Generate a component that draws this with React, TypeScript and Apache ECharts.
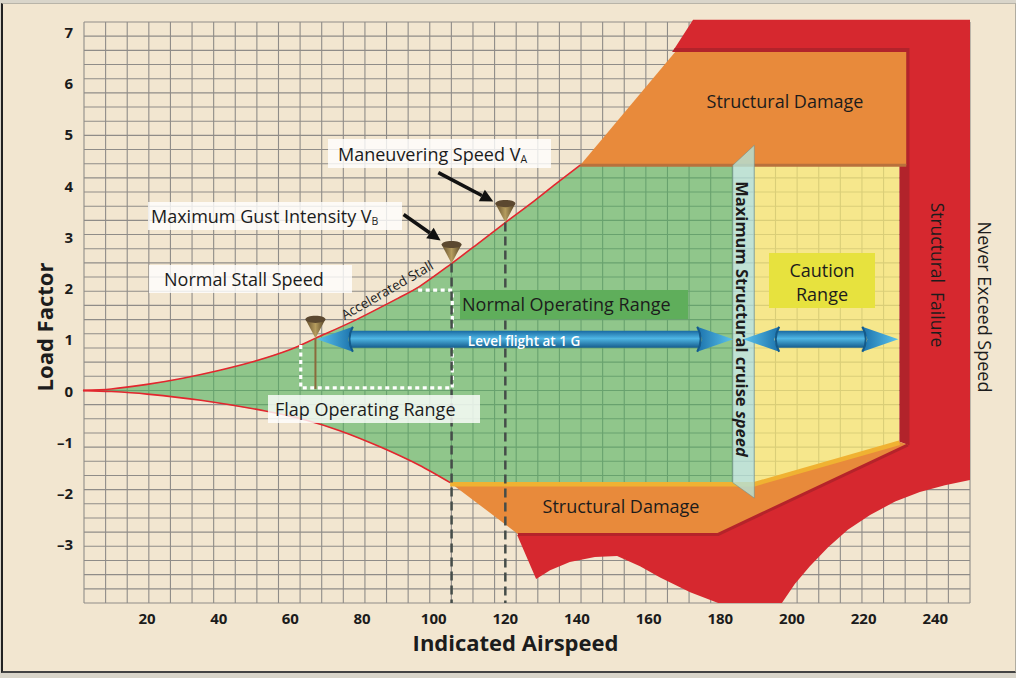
import React, { useEffect, useRef } from 'react';
import * as echarts from 'echarts';

// ---------- data ----------
const airspeedTicks = [20, 40, 60, 80, 100, 120, 140, 160, 180, 200, 220, 240];
const loadFactorTicks = [-3, -2, -1, 0, 1, 2, 3, 4, 5, 6, 7];
const gridCells = 41;

// accelerated stall (positive) curve: [airspeed, load factor]
const positiveStall: [number, number][] = [
  [1.3, 0], [10, 0.03], [20, 0.12], [30, 0.24], [40, 0.39], [50, 0.57], [60, 0.8], [67, 1.02],
  [78, 1.37], [90, 1.8], [96, 2.03], [105, 2.48], [112, 2.85], [120, 3.28], [128, 3.7], [134, 4.03], [140.9, 4.4],
];
// negative stall curve
const negativeStall: [number, number][] = [
  [1.3, 0], [10, -0.02], [20, -0.07], [35, -0.19], [53, -0.4], [64, -0.57], [74, -0.79], [85, -1.1], [96, -1.46], [104.6, -1.8],
];
// normal operating envelope corners
const normalRight: [number, number][] = [[183.5, 4.4], [183.5, -1.8]];
const cautionZone: [number, number][] = [[189.5, 4.4], [230, 4.4], [230, -1.0], [189.5, -1.8]];
const cruiseBar: [number, number][] = [[183.5, 4.4], [189.5, 4.79], [189.5, -2.1], [183.5, -1.8]];
const damageTop: [number, number][] = [[140.9, 4.4], [167.4, 6.61], [231.9, 6.61], [231.9, 4.4]];
const damageTopEdge: [number, number][] = [[140.9, 4.4], [231.9, 4.4]];
const damageBottom: [number, number][] = [[104.6, -1.8], [189.5, -1.8], [230, -1.0], [232.4, -1.06], [179.4, -2.8], [123.5, -2.8]];
const limitStrip: [number, number][] = [[104.6, -1.83], [189.5, -1.83], [230, -1.02]];
const damageBottomEdge: [number, number][] = [[123.5, -2.81], [179.4, -2.81], [232.4, -1.06]];
const failureZone: [number, number][] = [
  [172.4, 7.24], [249.7, 7.24], [249.7, -1.75], [242.7, -1.85], [235.7, -1.98], [228.8, -2.17], [221.8, -2.43],
  [215.6, -2.72], [210.1, -3.06], [205.0, -3.43], [200.8, -3.78], [197.2, -4.15],
  [179.4, -4.15], [171.6, -3.94], [163.2, -3.65], [157.6, -3.43], [151.2, -3.23], [145.0, -3.25], [138.0, -3.35],
  [132.5, -3.51], [128.6, -3.68], [123.3, -2.82],
  [179.4, -2.82], [232.4, -1.06], [232.4, 6.61], [166.6, 6.61],
];
const failureShadow: [number, number][] = [[166.6, 6.61], [167.3, 6.69], [232.8, 6.69], [232.8, -1.07], [230, -1.0], [230, 6.61]];
const flapRange: [number, number][] = [[62.9, 0.89], [62.9, 0.05], [105.2, 0.05], [105.2, 1.96], [95.3, 1.96]];
// speed markers: [airspeed, load factor at stall curve]
const stallMarker: [number, number][] = [[67, 1.02]];
const gustMarker: [number, number][] = [[105, 2.48]];
const maneuverMarker: [number, number][] = [[120, 3.28]];
const levelFlightArrows: [number, number][] = [[67.4, 183.6], [186.4, 229.7]];
const levelFlightLoad = 1;

// ---------- layout ----------
const X_MIN = 2.4, X_MAX = 249.7, Y_MIN = -4.15, Y_MAX = 7.197;
const FONT = '"Open Sans", "Noto Sans", sans-serif';
const GRID_COLOR = '#8f8c88';

type Pt = [number, number];

function poly(pts: Pt[], style: any, z = 2) {
  return {
    type: 'custom', coordinateSystem: 'cartesian2d', z, silent: true, clip: false,
    data: [[pts[0][0], pts[0][1]]],
    renderItem: (_p: any, api: any) => ({
      type: 'polygon', shape: { points: pts.map((p) => api.coord(p)) }, style,
    }),
  };
}
function pline(pts: Pt[], style: any, z = 2) {
  return {
    type: 'custom', coordinateSystem: 'cartesian2d', z, silent: true, clip: false,
    data: [[pts[0][0], pts[0][1]]],
    renderItem: (_p: any, api: any) => ({
      type: 'polyline', shape: { points: pts.map((p) => api.coord(p)) }, style: { fill: 'none', ...style },
    }),
  };
}

// background grid: gridCells x gridCells cells spanning the plot
const gridSeries = {
  type: 'custom', coordinateSystem: 'cartesian2d', z: 1, silent: true, clip: false,
  data: Array.from({ length: gridCells + 1 }, (_, i) => [i, 0]),
  renderItem: (_p: any, api: any) => {
    const i = api.value(0);
    const gx = X_MIN + (i * (X_MAX - X_MIN)) / gridCells;
    const gy = Y_MIN + (i * (Y_MAX - Y_MIN)) / gridCells;
    const a = api.coord([gx, Y_MIN]), b = api.coord([gx, Y_MAX]);
    const c = api.coord([X_MIN, gy]), d = api.coord([X_MAX, gy]);
    const st = { stroke: GRID_COLOR, lineWidth: 1.1 };
    return {
      type: 'group',
      children: [
        { type: 'line', shape: { x1: a[0], y1: a[1], x2: b[0], y2: b[1] }, style: st },
        { type: 'line', shape: { x1: c[0], y1: c[1], x2: d[0], y2: d[1] }, style: st },
      ],
    };
  },
};

function coneSeries(pts: Pt[], drop: 'stem' | 'dashed', pointer?: { from: Pt; to: Pt }) {
  return {
    type: 'custom', coordinateSystem: 'cartesian2d', z: 6, silent: true, clip: false,
    data: pts,
    renderItem: (_p: any, api: any) => {
      const [x, y] = api.coord([api.value(0), api.value(1)]);
      const [, yb] = api.coord([api.value(0), drop === 'stem' ? 0.03 : Y_MIN]);
      const children: any[] = [];
      children.push({
        type: 'line', shape: { x1: x, y1: y, x2: x, y2: yb },
        style: drop === 'stem'
          ? { stroke: '#8a6a3c', lineWidth: 2 }
          : { stroke: '#454d49', lineWidth: 2.5, lineDash: [9, 5] },
      });
      children.push({
        type: 'polygon', shape: { points: [[x - 10, y - 19], [x + 10, y - 19], [x, y]] },
        style: {
          fill: new echarts.graphic.LinearGradient(0, 0, 1, 0, [
            { offset: 0, color: '#5f4a2a' }, { offset: 0.5, color: '#b59c5e' }, { offset: 1, color: '#4f3d22' },
          ]),
        },
      });
      children.push({ type: 'ellipse', shape: { cx: x, cy: y - 19, rx: 10, ry: 3.6 }, style: { fill: '#5b4830' } });
      if (pointer) {
        const sx = x + pointer.from[0], sy = y + pointer.from[1];
        const ex = x + pointer.to[0], ey = y + pointer.to[1];
        const ang = Math.atan2(ey - sy, ex - sx);
        const hl = 13, hw = 6.5;
        const bx = ex - hl * Math.cos(ang), by = ey - hl * Math.sin(ang);
        children.push({ type: 'line', shape: { x1: sx, y1: sy, x2: bx, y2: by }, style: { stroke: '#111', lineWidth: 3.6 } });
        children.push({
          type: 'polygon',
          shape: { points: [[ex, ey], [bx - hw * Math.sin(ang), by + hw * Math.cos(ang)], [bx + hw * Math.sin(ang), by - hw * Math.cos(ang)]] },
          style: { fill: '#111' },
        });
      }
      return { type: 'group', children };
    },
  };
}

const arrowSeries = {
  type: 'custom', coordinateSystem: 'cartesian2d', z: 7, silent: true, clip: false,
  data: levelFlightArrows,
  renderItem: (_p: any, api: any) => {
    const [x1, yc] = api.coord([api.value(0), levelFlightLoad]);
    const [x2] = api.coord([api.value(1), levelFlightLoad]);
    const hl = 36, hh = 12.5, sh = 8.5;
    const shaftGrad = new echarts.graphic.LinearGradient(0, 0, 0, 1, [
      { offset: 0, color: '#1a6aa2' }, { offset: 0.45, color: '#4fb6e4' }, { offset: 1, color: '#155c8c' },
    ]);
    const headGradL = new echarts.graphic.LinearGradient(0, 0, 1, 0, [
      { offset: 0, color: '#5cc3ec' }, { offset: 1, color: '#1b72ac' },
    ]);
    const headGradR = new echarts.graphic.LinearGradient(0, 0, 1, 0, [
      { offset: 0, color: '#1b72ac' }, { offset: 1, color: '#5cc3ec' },
    ]);
    return {
      type: 'group',
      children: [
        { type: 'polygon', shape: { points: [[x1 + hl - 3, yc - sh], [x2 - hl + 3, yc - sh], [x2 - hl + 3, yc + sh], [x1 + hl - 3, yc + sh]] }, style: { fill: shaftGrad } },
        { type: 'polygon', shape: { points: [[x1, yc], [x1 + hl, yc - hh], [x1 + hl - 5, yc], [x1 + hl, yc + hh]] }, style: { fill: headGradL } },
        { type: 'polygon', shape: { points: [[x2, yc], [x2 - hl, yc - hh], [x2 - hl + 5, yc], [x2 - hl, yc + hh]] }, style: { fill: headGradR } },
        { type: 'bezierCurve', shape: { x1: x1 + hl, y1: yc - hh, x2: x1 + hl, y2: yc + hh, cpx1: x1 + hl - 7, cpy1: yc }, style: { stroke: '#145a8a', lineWidth: 2, fill: 'none' } },
        { type: 'bezierCurve', shape: { x1: x2 - hl, y1: yc - hh, x2: x2 - hl, y2: yc + hh, cpx1: x2 - hl + 7, cpy1: yc }, style: { stroke: '#145a8a', lineWidth: 2, fill: 'none' } },
      ],
    };
  },
};

function label(text: string, x: number, y: number, opt: any = {}) {
  return {
    type: 'text', x, y, rotation: opt.rotation || 0, z: 110, silent: true,
    style: {
      text,
      fill: opt.color || '#1c1c1c',
      fontSize: opt.size || 18,
      fontFamily: FONT,
      fontWeight: opt.weight || 'normal',
      fontStyle: opt.fontStyle || 'normal',
      align: opt.align || 'center', textAlign: opt.align || 'center',
      verticalAlign: 'middle', textVerticalAlign: 'middle',
      rich: opt.rich,
    },
  };
}
function box(x: number, y: number, w: number, h: number, fill = 'rgba(255,255,255,0.8)') {
  return { type: 'rect', z: 105, silent: true, shape: { x, y, width: w, height: h }, style: { fill } };
}

const subRich = {
  m: { fontSize: 18, fontFamily: FONT, color: '#1c1c1c', lineHeight: 22 },
  s: { fontSize: 10.5, fontFamily: FONT, color: '#1c1c1c', verticalAlign: 'bottom', padding: [0, 0, 1, 0] },
};

const greenZone: Pt[] = [...positiveStall, ...normalRight, ...negativeStall.slice().reverse()];

const option: any = {
  animation: false,
  grid: { left: 84, top: 22, width: 886, height: 581, containLabel: false },
  xAxis: {
    type: 'value', min: X_MIN, max: X_MAX, position: 'bottom',
    axisLine: { show: false }, axisTick: { show: false }, splitLine: { show: false },
    axisLabel: { customValues: airspeedTicks, margin: 7, fontSize: 15, fontWeight: 'bold', color: '#1b1b1b', fontFamily: FONT },
  },
  yAxis: {
    type: 'value', min: Y_MIN, max: Y_MAX, position: 'left',
    axisLine: { show: false }, axisTick: { show: false }, splitLine: { show: false },
    axisLabel: {
      customValues: loadFactorTicks, margin: 11, fontSize: 15, fontWeight: 'bold', color: '#1b1b1b', fontFamily: FONT,
      formatter: (v: number) => (v < 0 ? '\u2013' + Math.abs(v) : String(v)),
    },
  },
  series: [
    gridSeries,
    poly(greenZone, { fill: 'rgba(79,176,93,0.6)' }),
    poly(cautionZone, { fill: 'rgba(246,231,114,0.72)' }),
    poly(failureZone, { fill: '#d6282f' }),
    poly(failureShadow, { fill: '#b2232b' }),
    poly(damageTop, { fill: '#e88a3b' }),
    pline(damageTopEdge, { stroke: '#b8713c', lineWidth: 3 }),
    poly(damageBottom, { fill: '#e88a3b' }),
    pline(limitStrip, { stroke: '#f0b232', lineWidth: 4.5 }),
    pline(damageBottomEdge, { stroke: '#b5232a', lineWidth: 3 }),
    poly(cruiseBar, { fill: 'rgba(180,225,214,0.82)', stroke: 'rgba(110,140,140,0.55)', lineWidth: 1 }),
    {
      type: 'line', data: positiveStall, symbol: 'none', z: 4, silent: true, smooth: 0.3, clip: false,
      lineStyle: { color: '#e3262e', width: 1.6 },
    },
    {
      type: 'line', data: negativeStall, symbol: 'none', z: 4, silent: true, smooth: 0.3, clip: false,
      lineStyle: { color: '#e3262e', width: 1.6 },
    },
    pline(flapRange, { stroke: '#ffffff', lineWidth: 3.2, lineDash: [4, 3.5] }, 5),
    coneSeries(stallMarker, 'stem'),
    coneSeries(gustMarker, 'dashed', { from: [-48, -49], to: [-11, -23] }),
    coneSeries(maneuverMarker, 'dashed', { from: [-67, -50], to: [-12, -21] }),
    arrowSeries,
  ],
  graphic: [
    box(328, 139, 223, 29),
    label('{m|Maneuvering Speed V}{s|A}', 338, 154, { align: 'left', rich: subRich }),
    box(148, 202, 254, 28),
    label('{m|Maximum Gust Intensity V}{s|B}', 151, 216, { align: 'left', rich: subRich }),
    box(149, 265, 203, 28),
    label('Normal Stall Speed', 164, 279, { align: 'left' }),
    box(268, 395, 212, 28),
    label('Flap Operating Range', 275, 409, { align: 'left' }),
    box(460, 290, 228, 29, '#5fae5b'),
    label('Normal Operating Range', 462, 304, { align: 'left' }),
    box(769, 253, 106, 55, '#e7e23e'),
    label('Caution', 822, 270),
    label('Range', 822, 294),
    label('Level flight at 1 G', 524, 341, { size: 13.5, color: '#ffffff', weight: 600 }),
    label('Structural Damage', 785, 101),
    label('Structural Damage', 621, 506),
    label('Structural  Failure', 938, 275, { rotation: -Math.PI / 2, size: 17.5 }),
    label('Never Exceed Speed', 985, 307, { rotation: -Math.PI / 2, size: 18 }),
    label('{b|Maximum Structural cruise }{i|speed}', 742, 319, {
      rotation: -Math.PI / 2,
      rich: {
        b: { fontSize: 16.5, fontWeight: 'bold', fontFamily: FONT, color: '#1c1c1c' },
        i: { fontSize: 16.5, fontWeight: 'bold', fontStyle: 'italic', fontFamily: FONT, color: '#1c1c1c' },
      },
    }),
    label('Accelerated Stall', 387, 290, { rotation: (30 * Math.PI) / 180, size: 13.5 }),
    label('Load Factor', 43.5, 327, { rotation: Math.PI / 2, size: 22, weight: 'bold' }),
    label('Indicated Airspeed', 515.5, 642, { size: 22, weight: 'bold' }),
  ],
};

export default function App() {
  const ref = useRef<HTMLDivElement>(null);
  useEffect(() => {
    if (!ref.current) return;
    const chart = echarts.init(ref.current, null, { renderer: 'svg' });
    chart.setOption(option);
    return () => chart.dispose();
  }, []);
  return (
    <div style={{ position: 'fixed', left: 0, top: 0, width: 1016, height: 678, background: '#d9d5ca' }}>
      <div
        style={{
          position: 'absolute', left: 1, top: 3, width: 1012, height: 667, background: '#f2e6d0',
          borderLeft: '2px solid #222', borderBottom: '2px solid #444', borderTop: '1px solid #b8b4a8', borderRight: '1px solid #b0aca0',
        }}
      />
      <div ref={ref} style={{ position: 'absolute', left: 0, top: 0, width: 1016, height: 678 }} />
    </div>
  );
}
